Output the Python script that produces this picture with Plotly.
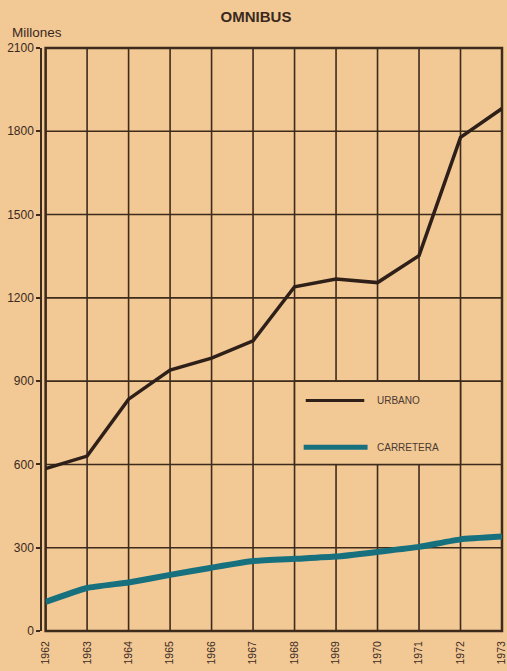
import plotly.graph_objects as go

# Omnibus passengers (millions), 1962-1973
years = [1962, 1963, 1964, 1965, 1966, 1967, 1968, 1969, 1970, 1971, 1972, 1973]
urbano = [585, 630, 835, 940, 983, 1045, 1240, 1268, 1255, 1352, 1778, 1882]
carretera = [105, 155, 175, 202, 228, 252, 260, 268, 285, 303, 330, 340]

y_ticks = [0, 300, 600, 900, 1200, 1500, 1800, 2100]
x_labels = [str(y) for y in years]

PAPER = "#f2c895"
INK = "#3a2a1e"
GRID = "#3d2b1c"
TEAL = "#17707e"
FONT = "Liberation Sans, Arial, sans-serif"

fig = go.Figure()

fig.add_trace(go.Scatter(
    x=years, y=urbano, mode="lines", name="URBANO",
    line=dict(color="#2e2018", width=3.5), showlegend=False,
))
fig.add_trace(go.Scatter(
    x=years, y=carretera, mode="lines", name="CARRETERA",
    line=dict(color=TEAL, width=6, shape="spline", smoothing=0.4), showlegend=False,
))

# grid drawn as shapes so the key panel can sit on top of it
for yr in years:
    fig.add_shape(type="line", xref="x", yref="y domain", x0=yr, x1=yr, y0=0, y1=1,
                  line=dict(color=GRID, width=1.6), layer="below")
for v in y_ticks:
    fig.add_shape(type="line", xref="x domain", yref="y", x0=0, x1=1, y0=v, y1=v,
                  line=dict(color=GRID, width=1.6), layer="below")

# key panel covering the grid cells 1968-1972 x 600-900
fig.add_shape(type="rect", xref="x", yref="y", x0=1968, x1=1972, y0=600, y1=900,
              fillcolor=PAPER, line=dict(color=GRID, width=1.6), layer="below")
fig.add_shape(type="line", xref="x", yref="y", x0=1968.27, x1=1969.68, y0=830, y1=830,
              line=dict(color="#2e2018", width=3))
fig.add_shape(type="line", xref="x", yref="y", x0=1968.22, x1=1969.76, y0=662, y1=662,
              line=dict(color=TEAL, width=5))
fig.add_annotation(x=1969.93, y=830, xref="x", yref="y", text="URBANO", showarrow=False,
                   xanchor="left", yanchor="middle",
                   font=dict(family=FONT, size=10, color="#4a3a30"))
fig.add_annotation(x=1969.93, y=662, xref="x", yref="y", text="CARRETERA", showarrow=False,
                   xanchor="left", yanchor="middle",
                   font=dict(family=FONT, size=10, color="#4a3a30"))

# plot frame
fig.add_shape(type="rect", xref="x domain", yref="y domain", x0=0, x1=1, y0=0, y1=1,
              line=dict(color=GRID, width=2.5), layer="below")

# unit label
fig.add_annotation(x=-0.067, y=1.027, xref="paper", yref="paper", text="Millones",
                   showarrow=False, xanchor="left", yanchor="middle",
                   font=dict(family=FONT, size=13.5, color=INK))

fig.update_layout(
    width=507, height=671,
    margin=dict(l=41, r=5, t=48, b=40, autoexpand=False),
    paper_bgcolor=PAPER, plot_bgcolor=PAPER,
    title=dict(text="<b>OMNIBUS</b>", x=0.505, xanchor="center", y=0.975, yanchor="middle",
               font=dict(family=FONT, size=15, color=INK)),
    font=dict(family=FONT, color=INK),
)

fig.update_xaxes(
    domain=[0.01, 1], range=[1962, 1973],
    tickvals=years, ticktext=x_labels, tickangle=-90,
    tickfont=dict(family=FONT, size=10.5, color=INK),
    ticklabeloverflow="allow", automargin=False,
    showgrid=False, zeroline=False, showline=False,
    ticks="outside", ticklen=5, tickcolor="rgba(0,0,0,0)",
)
fig.update_yaxes(
    range=[0, 2100], tickvals=y_ticks,
    anchor="free", position=0, automargin=False,
    tickfont=dict(family=FONT, size=12, color=INK),
    showgrid=False, zeroline=False,
    showline=True, linecolor=GRID, linewidth=1.5,
    ticks="outside", ticklen=4, tickcolor=GRID, tickwidth=1.5,
)

fig.write_html("out.html")
